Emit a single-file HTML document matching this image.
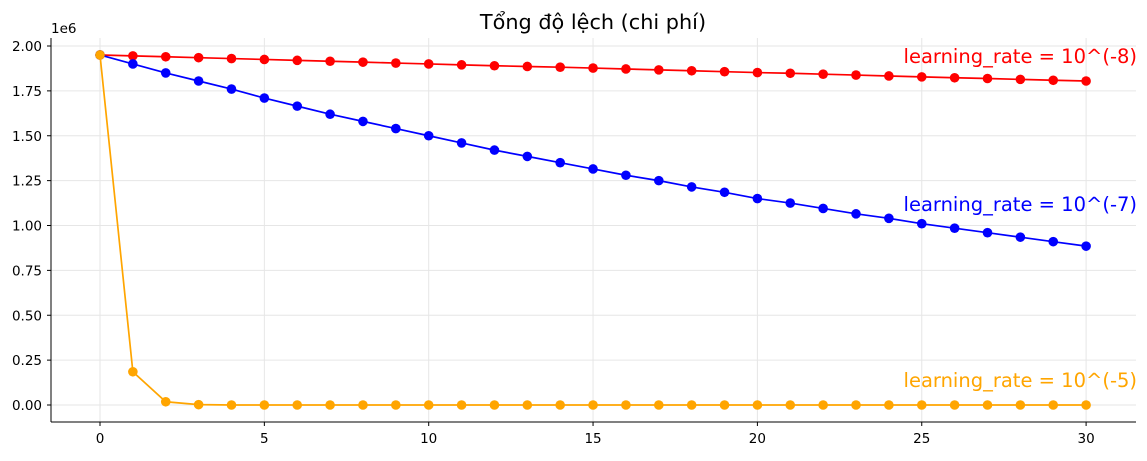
<!DOCTYPE html>
<html><head><meta charset="utf-8"><style>
body{margin:0;background:#fff}
svg text{font-family:"DejaVu Sans","Liberation Sans",sans-serif}
</style></head><body>
<svg id="chart" width="1147" height="456" xmlns="http://www.w3.org/2000/svg">
<text x="593" y="29" font-size="20.8" text-anchor="middle" fill="#000">Tổng độ lệch (chi phí)</text>
<text x="51" y="33" font-size="13.5" fill="#000">1e6</text>
<g id="grid"></g><g id="axes"></g><g id="series"></g>
<text x="1137" y="63" font-size="19.5" text-anchor="end" fill="red">learning_rate = 10^(-8)</text>
<text x="1137" y="211" font-size="19.5" text-anchor="end" fill="blue">learning_rate = 10^(-7)</text>
<text x="1137" y="387" font-size="19.5" text-anchor="end" fill="orange">learning_rate = 10^(-5)</text>
</svg>
<script>
const iterations=[...Array(31).keys()];
const lr8=[1.95,1.945,1.94,1.935,1.93,1.925,1.92,1.915,1.91,1.905,1.90,1.895,1.89,1.886,1.882,1.877,1.872,1.867,1.862,1.857,1.852,1.848,1.843,1.838,1.833,1.828,1.823,1.819,1.814,1.809,1.805];
const lr7=[1.95,1.90,1.85,1.805,1.76,1.71,1.665,1.62,1.58,1.54,1.50,1.46,1.42,1.385,1.35,1.315,1.28,1.25,1.215,1.185,1.15,1.125,1.095,1.065,1.04,1.01,0.985,0.96,0.935,0.91,0.885];
const lr5=[1.95,0.185,0.018,0.002,0,0,0,0,0,0,0,0,0,0,0,0,0,0,0,0,0,0,0,0,0,0,0,0,0,0,0];
const xTicks=[0,5,10,15,20,25,30];
const yTicks=[0,0.25,0.5,0.75,1.0,1.25,1.5,1.75,2.0];
const X=v=>100+v*32.87, Y=v=>405-v*179.5;
const NS="http://www.w3.org/2000/svg";
function mk(p,t,a){const e=document.createElementNS(NS,t);for(const k in a)e.setAttribute(k,a[k]);document.getElementById(p).appendChild(e);return e;}
xTicks.forEach(t=>{
 const g=mk('grid','line',{x1:X(t),x2:X(t),y1:38,y2:422,stroke:'#e6e6e6','stroke-width':1});
 
 
 mk('axes','line',{x1:X(t),x2:X(t),y1:422,y2:426,stroke:'#000'});
 const l=mk('axes','text',{x:X(t),y:443,'font-size':13.5,'text-anchor':'middle'});l.textContent=t;
 
 
});
yTicks.forEach(t=>{
 const g=mk('grid','line',{x1:51,x2:1136,y1:Y(t),y2:Y(t),stroke:'#e6e6e6','stroke-width':1});
 
 
 mk('axes','line',{x1:47,x2:51,y1:Y(t),y2:Y(t),stroke:'#000'});
 const l=mk('axes','text',{x:42,y:Y(t)+5,'font-size':13.5,'text-anchor':'end'});l.textContent=t.toFixed(2);
 
 
});
const ls=mk('axes','line',{x1:51,x2:51,y1:38,y2:422,stroke:'#000'});


const bs=mk('axes','line',{x1:51,x2:1136,y1:422,y2:422,stroke:'#000'});


function series(vals,color,name){
 const pl=mk('series','polyline',{points:vals.map((v,i)=>X(iterations[i])+','+Y(v)).join(' '),fill:'none',stroke:color,'stroke-width':1.7});
 
 
 vals.forEach((v,i)=>{const c=mk('series','circle',{cx:X(iterations[i]),cy:Y(v),r:4.8,fill:color});
 
 });
}
series(lr8,'red','lr8');series(lr7,'blue','lr7');series(lr5,'orange','lr5');
</script>
</body></html>
